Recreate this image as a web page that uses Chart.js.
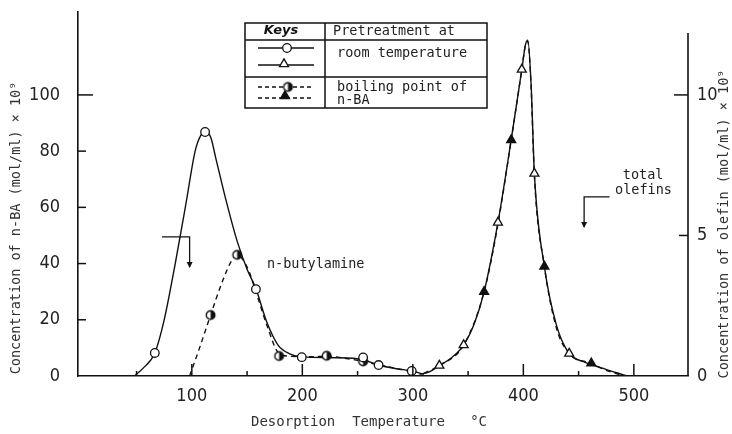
<!DOCTYPE html>
<html><head><meta charset="utf-8">
<script src="https://cdn.jsdelivr.net/npm/chart.js@4/dist/chart.umd.min.js"></script>
<style>html,body{margin:0;padding:0;background:#fff;}canvas{display:block;}</style>
</head><body>
<canvas id="c" width="732" height="434"></canvas>
<script>
// ---------- data ----------
const xTickLabels=[100,200,300,400,500];
const xMinorTicks=[50,150,250,350,450];
const leftTickLabels=[0,20,40,60,80,100];
const rightTickLabels=[0,5,10];
// n-butylamine, pretreatment at room temperature (open circles, left axis)
const nbaRoomT=[66.5,112,158,199.5,255,269,299];
const nbaRoomV=[8.2,86.8,30.9,6.7,6.6,3.9,1.8];
// n-butylamine, pretreatment at boiling point of n-BA (half circles, left axis)
const nbaBoilT=[117,141,179,222,255];
const nbaBoilV=[21.7,43.1,7.1,7.2,5.2];
// total olefins, room temperature (open triangles, right axis)
const olRoomT=[324,346,377,398.6,410,441.5];
const olRoomV=[0.37,1.1,5.46,10.9,7.2,0.8];
// total olefins, boiling point (filled triangles, right axis)
const olBoilT=[364.5,389,419,461.5];
const olBoilV=[3.0,8.4,3.9,0.45];
// drawn curves
const nbaRoomCurveT=[48,56,66.5,75,85,95,103,108,112,117,122,130,141,150,158,168,178,188,200,230,255,269,285,299,310];
const nbaRoomCurveV=[0,2.8,8.2,20,40,62,80,85.5,86.8,85,77,64,48,38,31,19,11,8,6.8,6.5,5.8,3.9,2.6,1.8,0.6];
const nbaBoilCurveT=[98,107,117,128,136,141,146,152,158,168,179,190,200,222,240,255,270,299];
const nbaBoilCurveV=[0,10,21.7,34,41,43.1,41.5,37,30,18,8,7,6.8,7.0,6.2,5.2,3.9,1.6];
const olRoomCurveT=[306,315,324,335,346,356,364.5,377,389,398.6,402,404,407,410,419,430,441.5,455,470,494];
const olRoomCurveV=[0.06,0.15,0.37,0.65,1.1,1.9,3.0,5.46,8.4,10.9,11.8,11.95,10.4,7.2,3.9,1.8,0.8,0.5,0.3,0];
const olBoilCurveT=[310,324,346,364.5,377,389,398.6,402,404,407,410,419,430,441.5,461.5,475,492];
const olBoilCurveV=[0.1,0.37,1.1,3.0,5.4,8.4,10.9,11.8,11.9,10.3,7.1,3.9,1.7,0.8,0.45,0.2,0];

const zip=(a,b)=>a.map((v,i)=>({x:v,y:b[i]}));
const INK='#111';
const MONO="'DejaVu Sans Mono', monospace";
const NUM="'Liberation Sans Narrow','DejaVu Sans Condensed',sans-serif";

function halfCircle(r){
  const s=Math.ceil(2*r+4), cv=document.createElement('canvas'); cv.width=s; cv.height=s;
  const g=cv.getContext('2d'), c=s/2;
  g.fillStyle='#fff'; g.beginPath(); g.arc(c,c,r,0,2*Math.PI); g.fill();
  g.fillStyle=INK; g.beginPath(); g.arc(c,c,r,-Math.PI/2,Math.PI/2); g.closePath(); g.fill();
  g.strokeStyle=INK; g.lineWidth=1.4; g.beginPath(); g.arc(c,c,r,0,2*Math.PI); g.stroke();
  return cv;
}
const HALF=halfCircle(4.3);

const marker=(data,axis,style,bg)=>({type:'line',data,yAxisID:axis,showLine:false,
  pointStyle:style,pointRadius:style==='triangle'?5.2:4.3,pointBackgroundColor:bg,
  pointBorderColor:INK,pointBorderWidth:1.3,order:0});
const curve=(data,axis,dash)=>({type:'line',data,yAxisID:axis,borderColor:INK,
  borderWidth:1.4,borderDash:dash,pointRadius:0,cubicInterpolationMode:'monotone',fill:false,order:1});

// ---------- decorations ----------
function arrowHead(ctx,x,y,dx,dy){
  const L=6,W=3; const n=Math.hypot(dx,dy); const ux=dx/n, uy=dy/n;
  ctx.beginPath(); ctx.moveTo(x,y); ctx.lineTo(x-ux*L-uy*W,y-uy*L+ux*W); ctx.lineTo(x-ux*L+uy*W,y-uy*L-ux*W); ctx.closePath(); ctx.fill();
}
const decor={id:'decor',afterDraw(chart){
  const ctx=chart.ctx, x=chart.scales.x, yl=chart.scales.y, yr=chart.scales.y2, a=chart.chartArea;
  ctx.save();
  ctx.strokeStyle=INK; ctx.fillStyle=INK; ctx.lineWidth=1.6;
  // right axis line (shorter than the left one)
  ctx.beginPath(); ctx.moveTo(a.right,a.bottom); ctx.lineTo(a.right,a.top+21); ctx.stroke();
  ctx.lineWidth=1.5;
  // inward ticks
  xTickLabels.forEach(v=>{const p=x.getPixelForValue(v);ctx.beginPath();ctx.moveTo(p,a.bottom);ctx.lineTo(p,a.bottom-12);ctx.stroke();});
  xMinorTicks.forEach(v=>{const p=x.getPixelForValue(v);ctx.beginPath();ctx.moveTo(p,a.bottom);ctx.lineTo(p,a.bottom-5);ctx.stroke();});
  leftTickLabels.forEach(v=>{if(v===0)return;const p=yl.getPixelForValue(v);ctx.beginPath();ctx.moveTo(a.left,p);ctx.lineTo(a.left+(v===100?15:8),p);ctx.stroke();});
  rightTickLabels.forEach(v=>{if(v===0)return;const p=yr.getPixelForValue(v);ctx.beginPath();ctx.moveTo(a.right,p);ctx.lineTo(a.right-(v===10?14:9),p);ctx.stroke();});
  // axis titles
  ctx.fillStyle='#333'; ctx.font='14px '+MONO; ctx.textAlign='center'; ctx.textBaseline='middle';
  ctx.fillText('Desorption  Temperature   °C',369,422);
  ctx.font='13.5px '+MONO;
  ctx.save(); ctx.translate(16,228); ctx.rotate(-Math.PI/2); ctx.fillText('Concentration of n-BA (mol/ml) × 10⁹',0,0); ctx.restore();
  ctx.save(); ctx.translate(724,224); ctx.rotate(-Math.PI/2); ctx.fillText('Concentration of olefin (mol/ml) × 10⁹',0,0); ctx.restore();
  // curve labels
  ctx.fillStyle='#222'; ctx.font='13.5px '+MONO; ctx.textAlign='left';
  ctx.fillText('n-butylamine',x.getPixelForValue(168),yl.getPixelForValue(39.5));
  ctx.fillText('total',x.getPixelForValue(490),yr.getPixelForValue(7.15));
  ctx.fillText('olefins',x.getPixelForValue(483),yr.getPixelForValue(6.6));
  // arrows
  ctx.strokeStyle=INK; ctx.fillStyle=INK; ctx.lineWidth=1.3;
  let x1=x.getPixelForValue(73), x2=x.getPixelForValue(98), y1=yl.getPixelForValue(49.5), y2=yl.getPixelForValue(38.8);
  ctx.beginPath(); ctx.moveTo(x1,y1); ctx.lineTo(x2,y1); ctx.lineTo(x2,y2); ctx.stroke(); arrowHead(ctx,x2,y2+1,0,1);
  x1=x.getPixelForValue(455); x2=x.getPixelForValue(478); y1=yr.getPixelForValue(6.37); y2=yr.getPixelForValue(5.3);
  ctx.beginPath(); ctx.moveTo(x2,y1); ctx.lineTo(x1,y1); ctx.lineTo(x1,y2); ctx.stroke(); arrowHead(ctx,x1,y2+1,0,1);
  // legend table
  const L=245,T=23,R=487,B=108,D=325,r1=40,r2=77;
  ctx.fillStyle='#fff'; ctx.fillRect(L,T,R-L,B-T);
  ctx.strokeStyle=INK; ctx.lineWidth=1.5; ctx.strokeRect(L,T,R-L,B-T);
  ctx.beginPath(); ctx.moveTo(L,r1); ctx.lineTo(R,r1); ctx.moveTo(L,r2); ctx.lineTo(R,r2); ctx.moveTo(D,T); ctx.lineTo(D,B); ctx.stroke();
  ctx.fillStyle=INK; ctx.textBaseline='middle';
  ctx.font='italic bold 13px "DejaVu Sans",sans-serif'; ctx.textAlign='center'; ctx.fillText('Keys',281,31);
  ctx.font='13.5px '+MONO; ctx.textAlign='left'; ctx.fillStyle='#222';
  ctx.fillText('Pretreatment at',333,31);
  ctx.fillText('room temperature',337,53);
  ctx.fillText('boiling point of',337,87);
  ctx.fillText('n-BA',337,100);
  ctx.strokeStyle=INK; ctx.lineWidth=1.3;
  const seg=(y,dash)=>{ctx.setLineDash(dash);ctx.beginPath();ctx.moveTo(258,y);ctx.lineTo(314,y);ctx.stroke();ctx.setLineDash([]);};
  seg(48,[]); seg(65,[]); seg(87,[4,3]); seg(98,[4,3]);
  ctx.fillStyle='#fff'; ctx.beginPath(); ctx.arc(287,48,4.3,0,2*Math.PI); ctx.fill(); ctx.stroke();
  const tri=(cx,cy,fill)=>{const s=5.2;ctx.beginPath();ctx.moveTo(cx,cy-s);ctx.lineTo(cx+s*0.87,cy+s*0.5);ctx.lineTo(cx-s*0.87,cy+s*0.5);ctx.closePath();ctx.fillStyle=fill;ctx.fill();ctx.stroke();};
  tri(284,64,'#fff'); tri(285,96,INK);
  ctx.drawImage(HALF,288-HALF.width/2,87-HALF.height/2);
  ctx.restore();
}};

const noPadV=s=>{s.paddingTop=0;s.paddingBottom=0;};
new Chart(document.getElementById('c'),{
  data:{datasets:[
    marker(zip(nbaRoomT,nbaRoomV),'y','circle','#fff'),
    marker(zip(nbaBoilT,nbaBoilV),'y',HALF,'#fff'),
    marker(zip(olRoomT,olRoomV),'y2','triangle','#fff'),
    marker(zip(olBoilT,olBoilV),'y2','triangle',INK),
    curve(zip(nbaRoomCurveT,nbaRoomCurveV),'y',[]),
    curve(zip(nbaBoilCurveT,nbaBoilCurveV),'y',[5,4]),
    curve(zip(olRoomCurveT,olRoomCurveV),'y2',[]),
    curve(zip(olBoilCurveT,olBoilCurveV),'y2',[5,4])
  ]},
  options:{
    responsive:false,animation:false,events:[],
    layout:{padding:{top:12,left:0,right:0,bottom:0}},
    plugins:{legend:{display:false},tooltip:{enabled:false}},
    scales:{
      x:{type:'linear',min:-3,max:549,
        afterBuildTicks:s=>{s.ticks=xTickLabels.map(v=>({value:v}));},
        afterFit:s=>{s.height=58;s.paddingLeft=0;s.paddingRight=0;},
        ticks:{font:{family:NUM,size:18},color:'#222',padding:10,maxRotation:0},
        grid:{display:false,drawTicks:false},border:{display:true,color:INK,width:1.6}},
      y:{type:'linear',position:'left',min:0,max:129.5,
        afterBuildTicks:s=>{s.ticks=leftTickLabels.map(v=>({value:v}));},
        afterFit:s=>{s.width=78;noPadV(s);},
        ticks:{font:{family:NUM,size:18},color:'#222',padding:18},
        grid:{display:false,drawTicks:false},border:{display:true,color:INK,width:1.6}},
      y2:{type:'linear',position:'right',min:0,max:12.95,
        afterBuildTicks:s=>{s.ticks=rightTickLabels.map(v=>({value:v}));},
        afterFit:s=>{s.width=44;noPadV(s);},
        ticks:{font:{family:NUM,size:18},color:'#222',padding:9},
        grid:{display:false,drawTicks:false},border:{display:false}}
    }
  },
  plugins:[decor]
});
</script>
</body></html>
